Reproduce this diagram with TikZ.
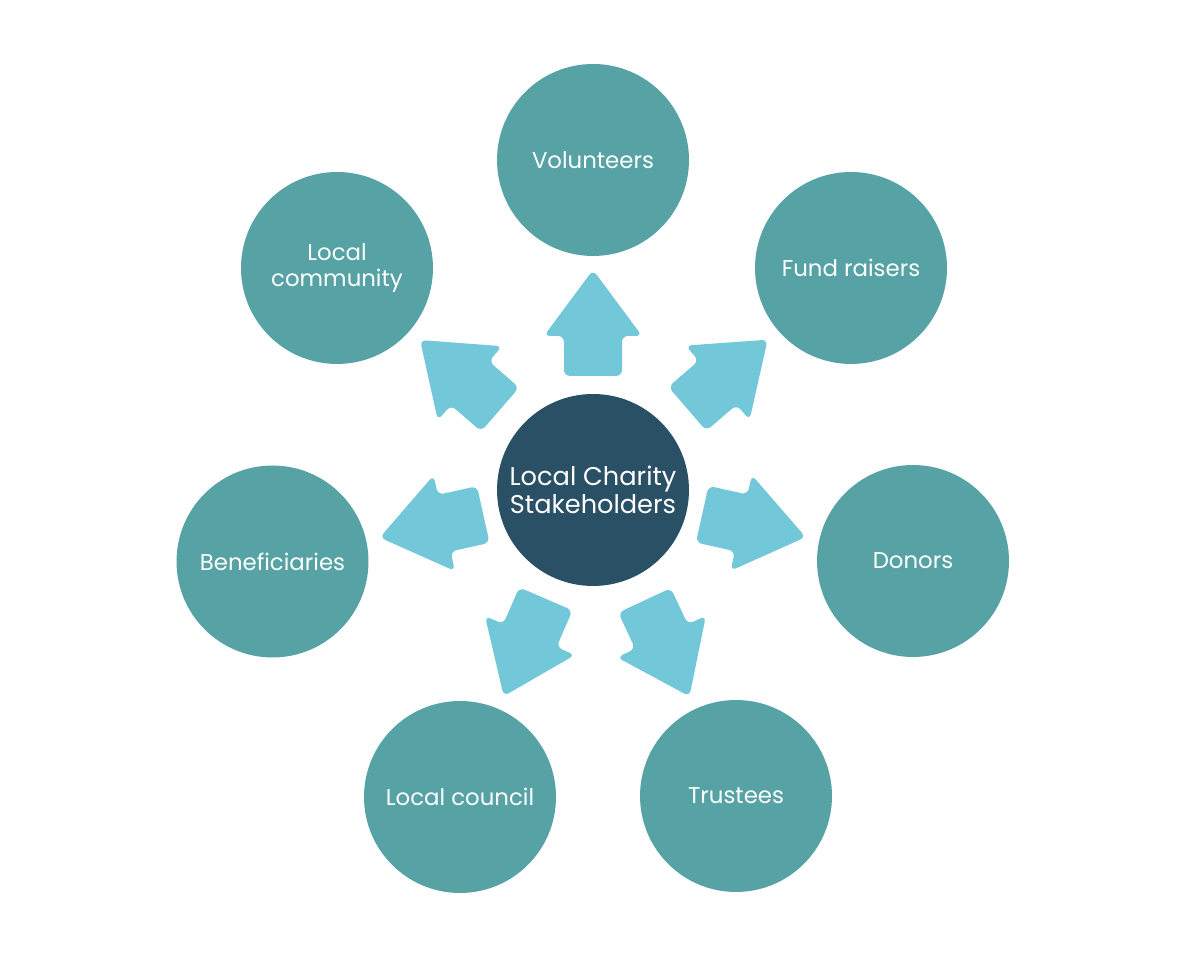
\documentclass[tikz,border=0pt]{standalone}
\usepackage{fontspec}
\setmainfont{Poppins}
\usetikzlibrary{calc}
\definecolor{hubblue}{HTML}{2A5066}
\definecolor{ringteal}{HTML}{56A2A5}
\definecolor{arrowblue}{HTML}{72C7D9}
\tikzset{
  hub/.style = {circle, fill = hubblue, text = white, inner sep = 0pt,
    minimum size = 3.84cm, align = center,
    font = \fontsize{14.6}{16}\selectfont},
  ring/.style = {circle, fill = ringteal, text = white, inner sep = 0pt,
    minimum size = 3.84cm, align = center,
    font = \fontsize{13}{14.8}\selectfont},
  arrowblock/.style = {fill = arrowblue, rounded corners = 1.2mm}
}
% block arrow from the hub towards one ring node
\newcommand\stakearrow[1]{%
  \pgfmathanglebetweenpoints{\pgfpointanchor{hub}{center}}{\pgfpointanchor{#1}{center}}%
  \let\arrowangle\pgfmathresult
  \pgfpointdiff{\pgfpointanchor{hub}{center}}{\pgfpointanchor{#1}{center}}%
  \pgfgetlastxy{\arrowdx}{\arrowdy}%
  \pgfmathsetmacro\arrowtip{veclen(\arrowdx,\arrowdy)/0.5690551 - 110}%
  \pgfmathsetmacro\arrowhead{\arrowtip - 66}%
  \pgfmathsetmacro\arrowbase{\arrowtip - 106}%
  \begin{scope}[shift = {(hub.center)}, rotate = \arrowangle]
    \fill [arrowblock] (\arrowbase, -29) -- (\arrowhead, -29) -- (\arrowhead, -49)
      -- (\arrowtip, 0) -- (\arrowhead, 49) -- (\arrowhead, 29) -- (\arrowbase, 29) -- cycle;
  \end{scope}}
\begin{document}
\begin{tikzpicture}[x = 0.02cm, y = 0.02cm]
  \useasboundingbox (0, 0) rectangle (1199, 976);
  \node [hub] (hub) at (593, 486) {Local Charity\\Stakeholders};
  \node [ring] (volunteers) at (593, 816) {Volunteers};
  \node [ring] (fundraisers) at (851, 708) {Fund raisers};
  \node [ring] (donors) at (913, 415) {Donors};
  \node [ring] (trustees) at (736, 180) {Trustees};
  \node [ring] (council) at (460, 179) {Local council};
  \node [ring] (beneficiaries) at (272.5, 414.5) {Beneficiaries};
  \node [ring] (community) at (337, 708) {Local\\community};
  \foreach \stake in {volunteers, fundraisers, donors, trustees, council, beneficiaries, community}{
    \stakearrow{\stake}
  }
\end{tikzpicture}
\end{document}
